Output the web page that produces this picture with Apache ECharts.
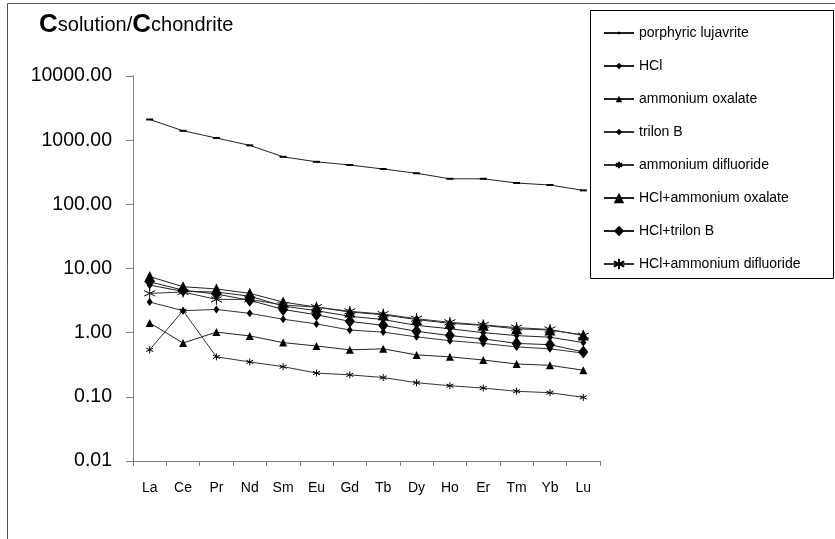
<!DOCTYPE html>
<html>
<head>
<meta charset="utf-8">
<script src="https://cdn.jsdelivr.net/npm/echarts@6/dist/echarts.min.js"></script>
<style>
html,body{margin:0;padding:0;background:#fff;}
#chart{width:835px;height:539px;}
</style>
</head>
<body>
<div id="chart"></div>
<script>
var categories = ['La','Ce','Pr','Nd','Sm','Eu','Gd','Tb','Dy','Ho','Er','Tm','Yb','Lu'];
var yTicks = [0.01, 0.1, 1, 10, 100, 1000, 10000];

var lujavrite = [2100, 1400, 1080, 830, 550, 460, 410, 355, 305, 250, 250, 215, 200, 165];
var hcl = [5.5, 4.4, 4.3, 3.7, 2.6, 2.2, 1.8, 1.6, 1.3, 1.15, 1.0, 0.9, 0.85, 0.7];
var ammOxalate = [1.42, 0.69, 1.02, 0.89, 0.70, 0.62, 0.54, 0.56, 0.45, 0.42, 0.375, 0.325, 0.31, 0.26];
var trilonB = [3.0, 2.2, 2.3, 2.0, 1.62, 1.37, 1.1, 1.02, 0.86, 0.75, 0.68, 0.6, 0.56, 0.48];
var ammDifluoride = [0.54, 2.2, 0.42, 0.35, 0.295, 0.235, 0.22, 0.2, 0.166, 0.149, 0.137, 0.122, 0.116, 0.098];
var hclAmmOxalate = [7.5, 5.2, 4.8, 4.1, 3.0, 2.5, 2.1, 1.9, 1.6, 1.4, 1.3, 1.15, 1.1, 0.92];
var hclTrilonB = [6.2, 4.6, 4.0, 3.2, 2.3, 1.9, 1.5, 1.3, 1.05, 0.9, 0.8, 0.68, 0.65, 0.5];
var hclAmmDifluoride = [4.1, 4.3, 3.3, 3.3, 2.7, 2.5, 2.15, 1.95, 1.65, 1.45, 1.32, 1.2, 1.12, 0.9];

var FONT = 'Liberation Sans, Arial, sans-serif';
var STAR = 'path://M0,-5 L0,5 M-4.3,-2.5 L4.3,2.5 M-4.3,2.5 L4.3,-2.5';

function mk(name, data, symbol, size, color, stroked) {
  return {
    name: name, type: 'line', data: data, symbol: symbol, symbolSize: size,
    showSymbol: true, animation: false,
    lineStyle: { color: color, width: 1 },
    itemStyle: stroked ? { color: 'transparent', borderColor: '#000', borderWidth: 1 } : { color: '#000' },
    emphasis: { disabled: true }
  };
}

var series = [
  mk('porphyric lujavrite', lujavrite, 'rect', [7, 2], '#222'),
  mk('HCl', hcl, 'diamond', [6, 8], '#222'),
  mk('ammonium oxalate', ammOxalate, 'triangle', [8, 8], '#222'),
  mk('trilon B', trilonB, 'diamond', [6, 8], '#333'),
  mk('ammonium difluoride', ammDifluoride, STAR, [7, 7], '#333', true),
  mk('HCl+ammonium oxalate', hclAmmOxalate, 'triangle', [11, 11], '#222'),
  mk('HCl+trilon B', hclTrilonB, 'diamond', [10, 13], '#222'),
  mk('HCl+ammonium difluoride', hclAmmDifluoride, STAR, [11, 11], '#333', true)
];

var legendBase = {
  orient: 'vertical', left: 603, padding: 0, itemWidth: 30, itemGap: 19,
  textStyle: { fontFamily: FONT, fontSize: 14, color: '#000' },
  selectedMode: false
};

var chart = echarts.init(document.getElementById('chart'), null, { renderer: 'canvas' });
chart.setOption({
  backgroundColor: '#fff',
  animation: false,
  title: {
    left: 34, top: 7,
    text: '{c|C}{s|solution/}{c|C}{s|chondrite}',
    textStyle: {
      fontWeight: 'normal',
      rich: {
        c: { fontFamily: FONT, fontSize: 26, fontWeight: 'bold', color: '#000' },
        s: { fontFamily: FONT, fontSize: 20, fontWeight: 'normal', color: '#000' }
      }
    }
  },
  graphic: [
    { type: 'rect', left: 5, top: 1, shape: { width: 829, height: 560 }, style: { fill: 'none', stroke: '#555', lineWidth: 1 }, silent: true, z: -1 },
    { type: 'rect', left: 590, top: 10, shape: { width: 243, height: 268 }, style: { fill: '#fff', stroke: '#000', lineWidth: 1 }, silent: true, z: 3 }
  ],
  legend: [
    Object.assign({}, legendBase, { top: 26, itemHeight: 3, data: ['porphyric lujavrite'] }),
    Object.assign({}, legendBase, { top: 59, itemHeight: 8, data: ['HCl', 'ammonium oxalate', 'trilon B', 'ammonium difluoride'] }),
    Object.assign({}, legendBase, { top: 191, itemHeight: 13, data: ['HCl+ammonium oxalate', 'HCl+trilon B', 'HCl+ammonium difluoride'] })
  ],
  grid: { left: 133, right: 235, top: 76, bottom: 78, containLabel: false },
  xAxis: {
    type: 'category', data: categories, boundaryGap: true,
    axisLine: { lineStyle: { color: '#7f7f7f', width: 1 } },
    axisTick: { show: true, length: 5, lineStyle: { color: '#7f7f7f' } },
    axisLabel: { fontFamily: FONT, fontSize: 14, color: '#000', margin: 20, interval: 0 },
    splitLine: { show: false }
  },
  yAxis: {
    type: 'log', logBase: 10, min: yTicks[0], max: yTicks[yTicks.length - 1], splitNumber: 6,
    axisLine: { show: true, lineStyle: { color: '#7f7f7f', width: 1 } },
    axisTick: { show: true, length: 7, lineStyle: { color: '#7f7f7f' } },
    axisLabel: { fontFamily: FONT, fontSize: 19.5, color: '#000', margin: 21,
      formatter: function (v) { return Number(v).toFixed(2); } },
    splitLine: { show: false },
    minorTick: { show: false }
  },
  series: series
});
</script>
</body>
</html>
